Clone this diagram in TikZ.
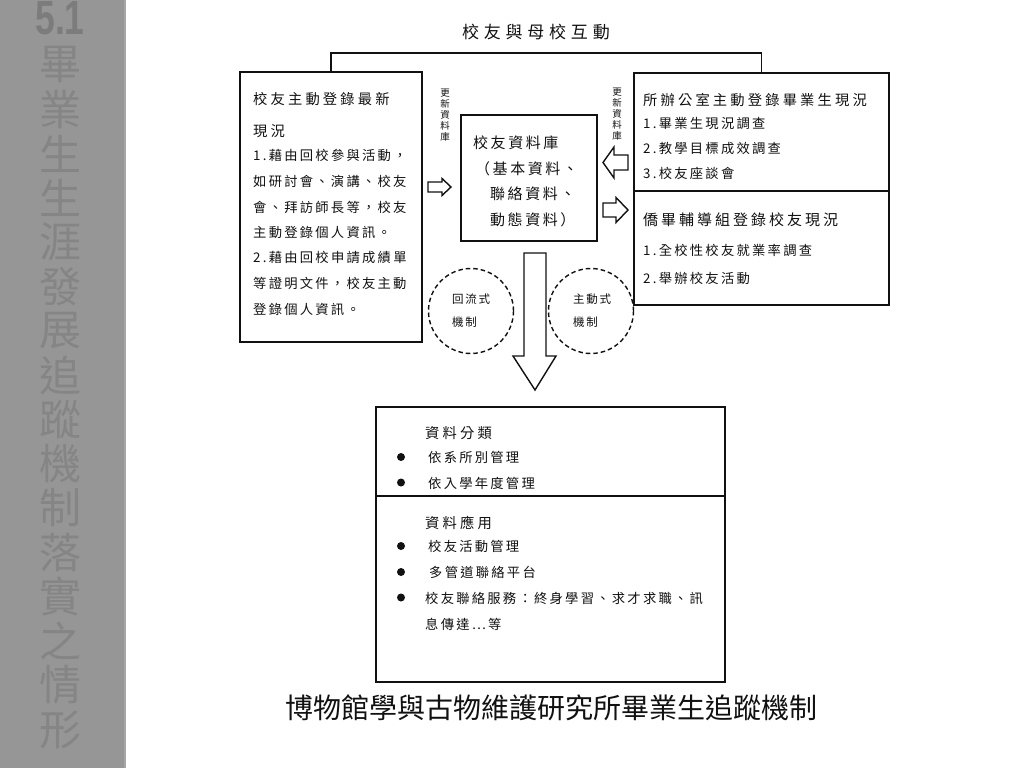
\documentclass[tikz,border=0pt]{standalone}
\usepackage{fontspec}
\newfontfamily\cjk{Noto Sans CJK TC}
\newfontfamily\cjkA[LetterSpace=17]{Noto Sans CJK TC}
\newfontfamily\cjkAF[LetterSpace=17,RawFeature=+fwid]{Noto Sans CJK TC}
\newfontfamily\cjkB[LetterSpace=22]{Noto Sans CJK TC}
\newfontfamily\cjkC[LetterSpace=20]{Noto Sans CJK TC}
\newfontfamily\cjkD[LetterSpace=15]{Noto Sans CJK TC}
\newfontfamily\cjkT[LetterSpace=28]{Noto Sans CJK TC}
\newfontfamily\numfont{Liberation Sans}
\definecolor{side}{HTML}{969696}
\definecolor{sideedge}{HTML}{A6A6A6}
\definecolor{sidetext}{HTML}{858585}
\definecolor{sidenum}{HTML}{7C7C7C}
\definecolor{ink}{HTML}{111111}
\begin{document}
\begin{tikzpicture}[x=1pt,y=-1pt,
  box/.style={draw=ink,line width=1.6pt,inner sep=0pt,outer sep=0pt},
  link/.style={draw=ink,line width=1.6pt},
  harrow/.style={draw=ink,line width=1.4pt,fill=white,line join=miter},
  dcirc/.style={draw=ink,circle,line width=1.4pt,dash pattern=on 4.5pt off 3pt,minimum size=85pt,inner sep=0pt},
  lt/.style={anchor=base west,inner sep=0pt,text=ink,font=\cjkA\fontsize{13.3}{15}\selectfont},
  hd/.style={anchor=base west,inner sep=0pt,text=ink,font=\cjkB\fontsize{14.3}{16}\selectfont},
  hdb/.style={anchor=base west,inner sep=0pt,text=ink,font=\cjkC\fontsize{15}{17}\selectfont},
  ct/.style={anchor=base west,inner sep=0pt,text=ink,font=\cjkA\fontsize{15}{17}\selectfont},
  cl/.style={anchor=base west,inner sep=0pt,text=ink,font=\cjkD\fontsize{11.5}{13}\selectfont},
  vt/.style={align=center,inner sep=0pt,text=ink,font=\cjk\fontsize{9.5}{11}\selectfont},
  bul/.style={circle,fill=ink,minimum size=8pt,inner sep=0pt},
  sidech/.style={inner sep=0pt,text=sidetext,font=\cjk\fontsize{42}{44}\selectfont}
]
\useasboundingbox (0,0) rectangle (1024,768);
\fill[white] (0,0) rectangle (1024,768);

% sidebar
\fill[side] (0,0) rectangle (124,768);
\fill[sideedge] (124,0) rectangle (125.5,768);
\node[inner sep=0pt,anchor=base,text=sidenum,font=\numfont\bfseries\fontsize{48}{48}\selectfont,xscale=0.74] (num) at (60,35) {5.1};
\foreach \ch [count=\i from 0] in {畢,業,生,生,涯,發,展,追,蹤,機,制,落,實,之,情,形}
  \node[sidech] (s\i) at (60,{65+44.3*\i}) {\ch};

% title
\node[anchor=base west,inner sep=0pt,text=ink,font=\cjkT\fontsize{17}{19}\selectfont] (title) at (462,38) {校友與母校互動};

% boxes
\node[box,minimum width=182pt,minimum height=270pt] (lbox) at (331,207) {};
\node[box,minimum width=136pt,minimum height=126pt] (cbox) at (529,178) {};
\node[box,minimum width=255pt,minimum height=232pt] (rbox) at (761.5,189) {};
\node[box,minimum width=349pt,minimum height=275pt] (bbox) at (550.5,544.5) {};
\coordinate (rdiv) at (0,191);
\coordinate (bdiv) at (0,496);
\draw[link] (rbox.west |- rdiv) -- (rbox.east |- rdiv);
\draw[link] (bbox.west |- bdiv) -- (bbox.east |- bdiv);

% top connector
\coordinate (topy) at (0,53);
\draw[link] (lbox.north) -- (lbox.north |- topy) -| (rbox.north);

% left box text
\node[hd] (l1) at (253,104.5) {校友主動登錄最新};
\node[hd] (l2) at (253,136) {現況};
\foreach \yy/\lbl [count=\i] in {160/1.藉由回校參與活動，,186/如研討會、演講、校友,212/會、拜訪師長等，校友,237/主動登錄個人資訊。,262/2.藉由回校申請成績單,288/等證明文件，校友主動,314/登錄個人資訊。}
  \node[lt] (la\i) at (253,\yy) {\lbl};

% center box text
\node[ct] (c1) at (473,148) {校友資料庫};
\node[ct] (c2) at (475,174) {（基本資料、};
\node[ct] (c3) at (490,199) {聯絡資料、};
\node[ct] (c4) at (490,225) {動態資料）};

% right box text
\node[hd] (r1) at (643,105.5) {所辦公室主動登錄畢業生現況};
\foreach \yy/\lbl [count=\i] in {128/1.畢業生現況調查,153/2.教學目標成效調查,178/3.校友座談會}
  \node[lt] (ra\i) at (643,\yy) {\lbl};
\node[hdb] (r2) at (643,225.5) {僑畢輔導組登錄校友現況};
\foreach \yy/\lbl [count=\i] in {255/1.全校性校友就業率調查,283/2.舉辦校友活動}
  \node[lt] (rb\i) at (643,\yy) {\lbl};

% vertical labels
\node[vt] (v1) at (445,115) {更\\新\\資\\料\\庫};
\node[vt] (v2) at (617,114) {更\\新\\資\\料\\庫};

% hollow arrows
\draw[harrow] (428,182) -- (442,182) -- (442,178.5) -- (451,187) -- (442,195.5) -- (442,192) -- (428,192) -- cycle;
\draw[harrow] (628,155) -- (614,155) -- (614,147) -- (603,162.5) -- (614,178) -- (614,170) -- (628,170) -- cycle;
\draw[harrow] (603,203) -- (616,203) -- (616,197.5) -- (628,210) -- (616,222.5) -- (616,217) -- (603,217) -- cycle;
\draw[harrow] (524,253) -- (546,253) -- (546,356) -- (556,356) -- (535,390) -- (513,356) -- (524,356) -- cycle;

% dashed circles
\node[dcirc] (cir1) at (471,311) {};
\node[dcirc] (cir2) at (591,311) {};
\node[cl] (cir1a) at (452,303.5) {回流式};
\node[cl] (cir1b) at (452,326) {機制};
\node[cl] (cir2a) at (573,303.5) {主動式};
\node[cl] (cir2b) at (573,326) {機制};

% bottom box text
\node[hd] (b1) at (425,438.5) {資料分類};
\node[lt] (b2) at (428,462) {依系所別管理};
\node[lt] (b3) at (428,488) {依入學年度管理};
\node[hd] (b4) at (425,528.5) {資料應用};
\node[lt] (b5) at (428,551) {校友活動管理};
\node[lt] (b6) at (429,577) {多管道聯絡平台};
\node[lt] (b7) at (425,603) {校友聯絡服務：終身學習、求才求職、訊};
\node[lt,font=\cjkAF\fontsize{13.3}{15}\selectfont] (b8) at (425,629) {息傳達…等};
\foreach \yy [count=\i] in {457,482.5,546,572,597.5}
  \node[bul] (dot\i) at (401,\yy) {};

% caption
\node[inner sep=0pt,text=ink,font=\cjk\fontsize{28}{30}\selectfont] (cap) at (551,708) {博物館學與古物維護研究所畢業生追蹤機制};
\end{tikzpicture}
\end{document}
